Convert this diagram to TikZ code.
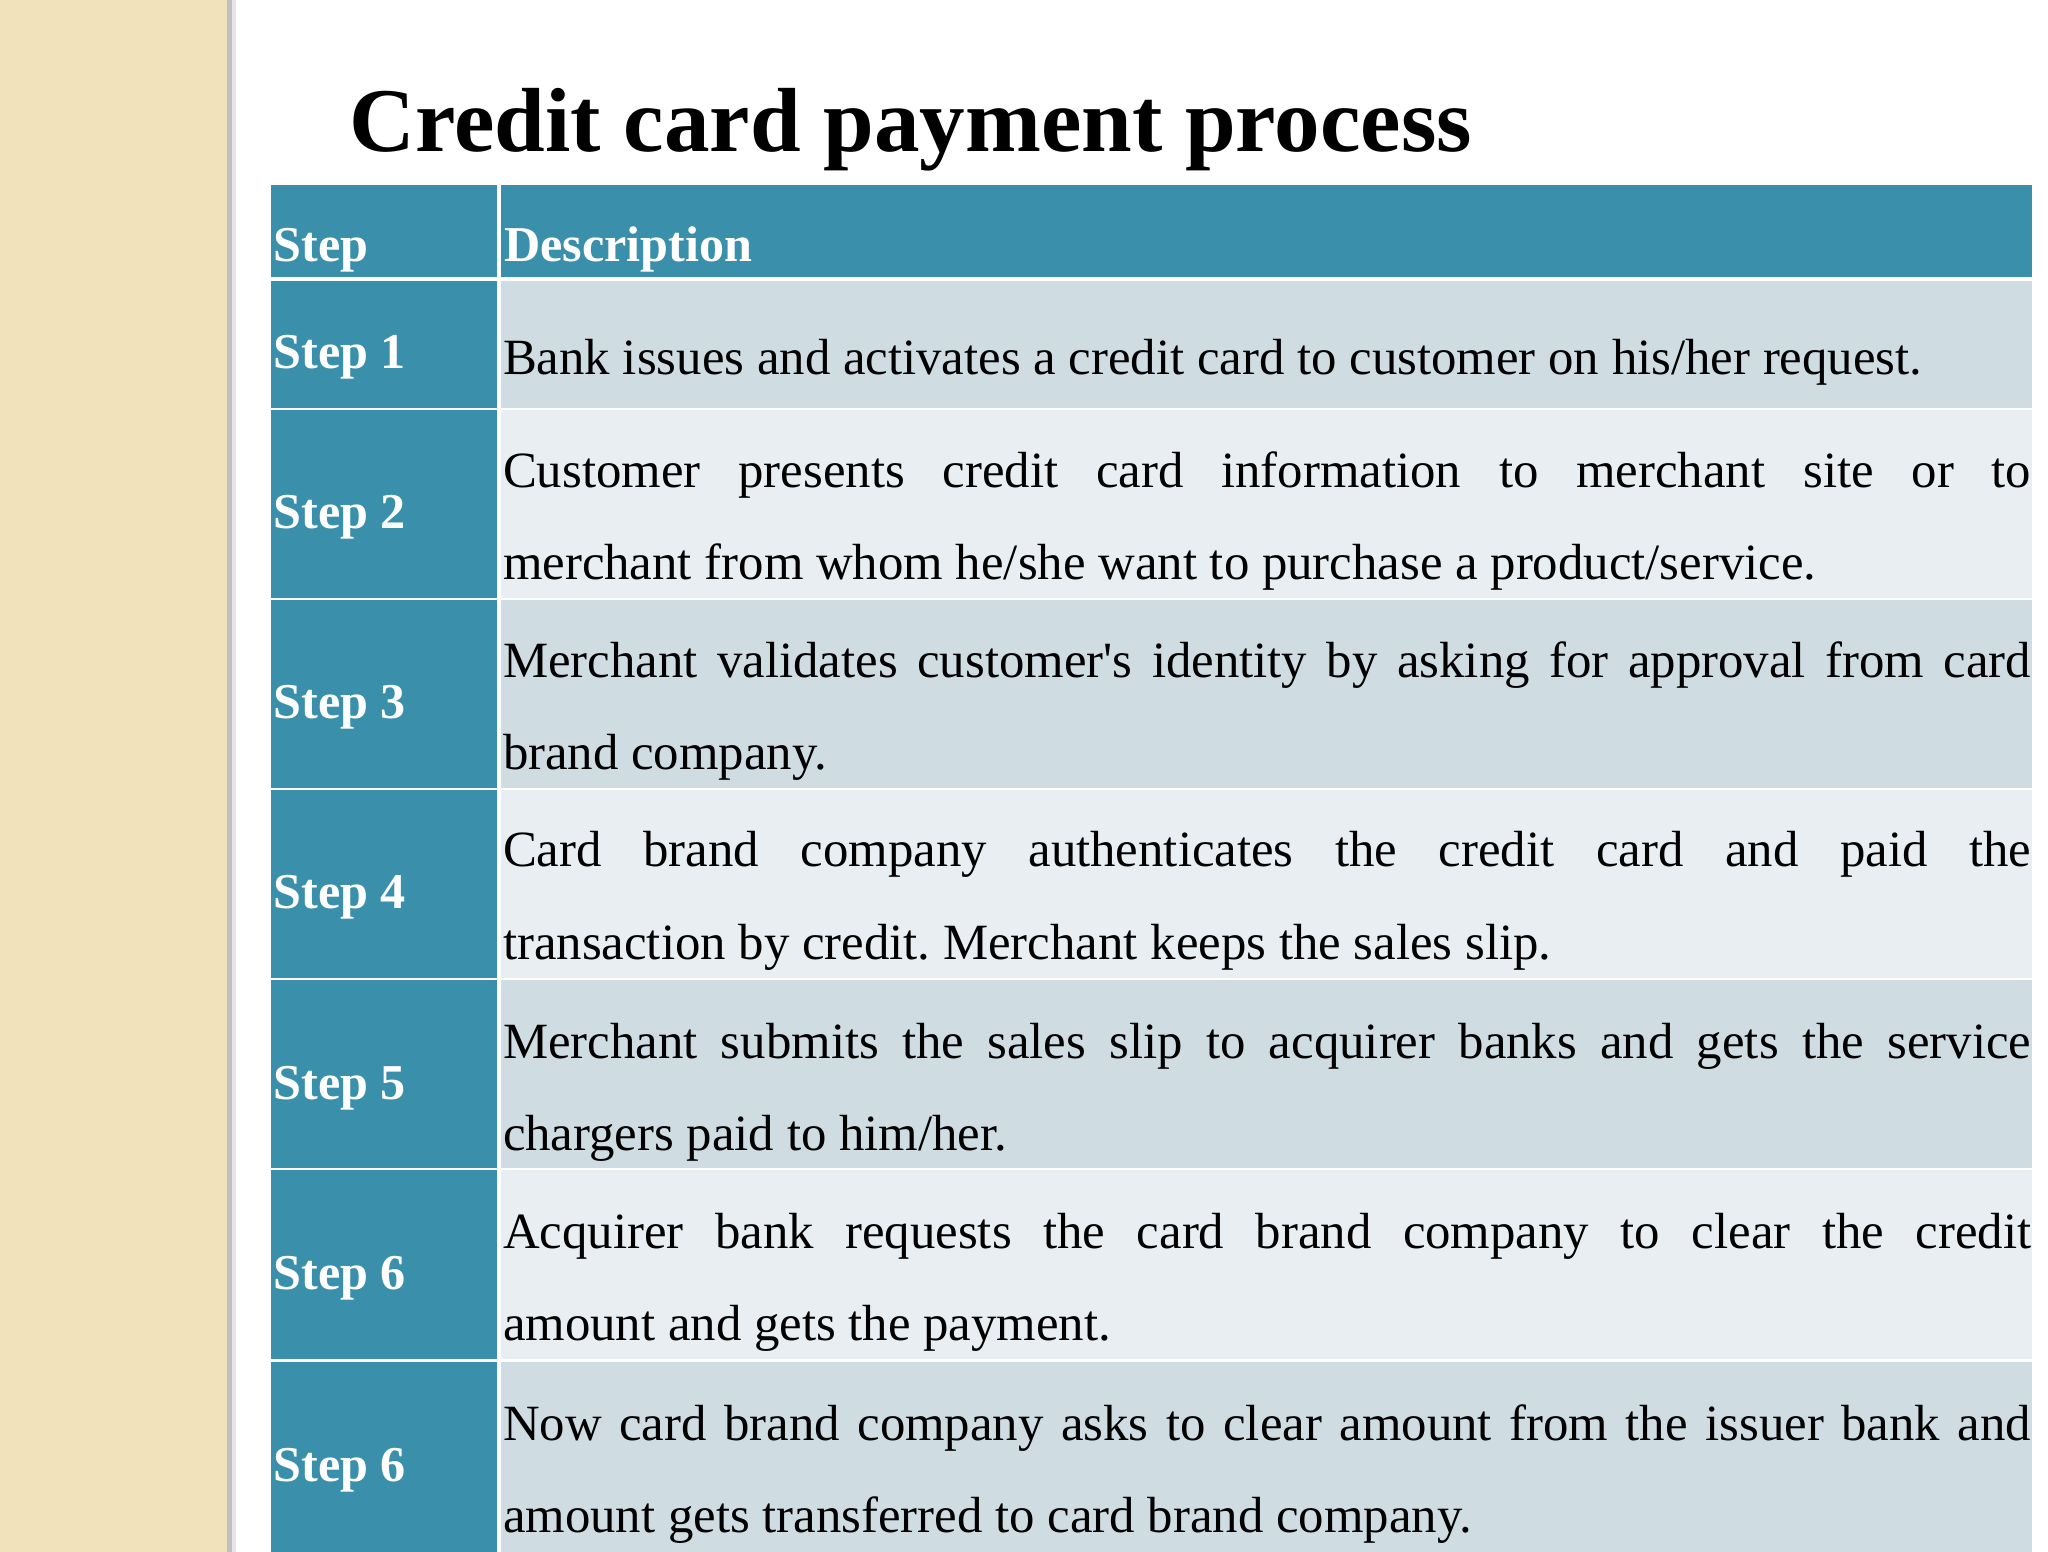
\documentclass[tikz,border=0pt]{standalone}
\usepackage{fontspec}
\setmainfont{Liberation Serif}
\frenchspacing
\definecolor{beige}{HTML}{F1E2BC}
\definecolor{teal}{HTML}{3A90AB}
\definecolor{rowA}{HTML}{CFDDE3}
\definecolor{rowB}{HTML}{E8EEF1}
\begin{document}
\begin{tikzpicture}[x=1pt,y=-1pt,
  hdr/.style={anchor=base west,font=\fontsize{38}{40}\selectfont\bfseries,text=white,inner sep=0},
  stp/.style={anchor=west,font=\fontsize{38}{40}\selectfont\bfseries,text=white,inner sep=0},
  dsc/.style={anchor=north west,font=\fontsize{38.5}{70}\selectfont\frenchspacing,text width=1158pt,align=justify,inner sep=0}]
\useasboundingbox (0,0) rectangle (1552,1176);
\fill[white] (0,0) rectangle (1552,1176);
\fill[beige] (0,0) rectangle (172,1176);
\fill[black!25] (172,0) rectangle (176,1176);
\fill[black!10] (176,0) rectangle (179,1176);
\node[anchor=base west,inner sep=0,font=\fontsize{69}{72}\selectfont\bfseries] (title) at (265,115) {Credit card payment process};
% header
\fill[teal] (205,140) rectangle (1540,210);
\fill[white] (377,140) rectangle (380,1176);
\node[hdr] (h1) at (207,198) {Step};
\node[hdr] (h2) at (382,198) {Description};
% rows
\foreach \t/\b/\c in {213/309/rowA,311/453/rowB,455/597/rowA,599/741/rowB,743/885/rowA,887/1030/rowB,1032/1176/rowA}{
  \fill[teal] (205,\t) rectangle (377,\b);
  \fill[\c] (380,\t) rectangle (1540,\b);
}
\node[stp] (s1) at (207,271) {Step 1};
\node[stp] (s2) at (207,392) {Step 2};
\node[stp] (s3) at (207,536) {Step 3};
\node[stp] (s4) at (207,680) {Step 4};
\node[stp] (s5) at (207,825) {Step 5};
\node[stp] (s6) at (207,969) {Step 6};
\node[stp] (s7) at (207,1114) {Step 6};
\node[dsc] (d1) at (381,257) {Bank issues and activates a credit card to customer on his/her request.};
\node[dsc] (d2) at (381,342) {Customer presents credit card information to merchant site or to\linebreak merchant from whom he/she want to purchase a product/service.};
\node[dsc] (d3) at (381,486) {Merchant validates customer\textquotesingle s identity by asking for approval from card\linebreak brand company.};
\node[dsc] (d4) at (381,630) {Card brand company authenticates the credit card and paid the\linebreak transaction by credit. Merchant keeps the sales slip.};
\node[dsc] (d5) at (381,775) {Merchant submits the sales slip to acquirer banks and gets the service\linebreak chargers paid to him/her.};
\node[dsc] (d6) at (381,919) {Acquirer bank requests the card brand company to clear the credit\linebreak amount and gets the payment.};
\node[dsc] (d7) at (381,1064) {Now card brand company asks to clear amount from the issuer bank and\linebreak amount gets transferred to card brand company.};
\end{tikzpicture}
\end{document}
